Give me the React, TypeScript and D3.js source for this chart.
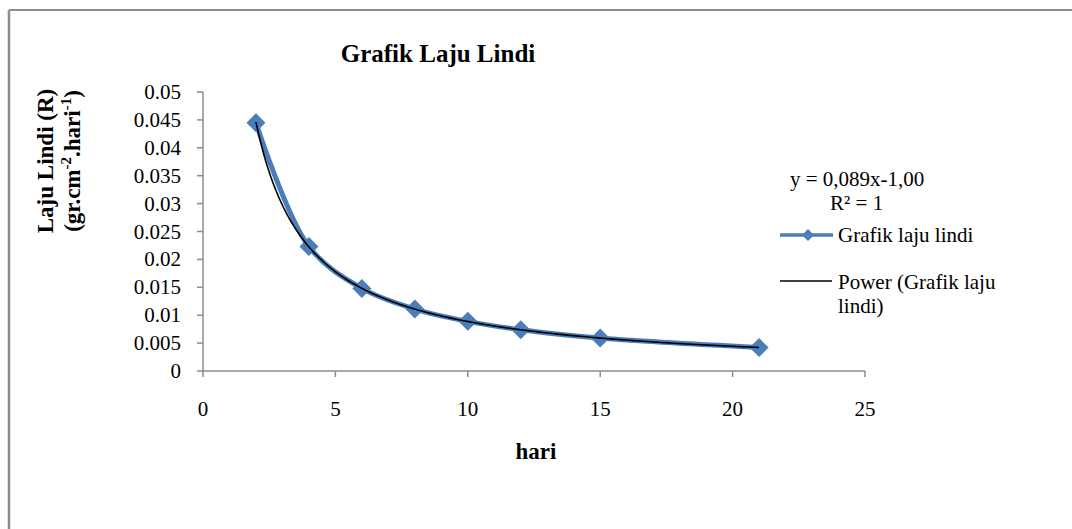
import React from "react";
import * as d3 from "d3";

const hari = [2, 4, 6, 8, 10, 12, 15, 21];
const lajuLindi = [0.0445, 0.0223, 0.0148, 0.0111, 0.0089, 0.0074, 0.0059, 0.0042];
const xTicks = [0, 5, 10, 15, 20, 25];
const yTicks = [0, 0.005, 0.01, 0.015, 0.02, 0.025, 0.03, 0.035, 0.04, 0.045, 0.05];

const W = 1072;
const H = 529;
const FONT = "'Liberation Serif', 'Times New Roman', serif";
const BLUE = "#4a7ebb";
const AXIS = "#8c8c8c";
const FS = 21;

export default function App() {
  const x = d3.scaleLinear().domain([0, 25]).range([203, 865]);
  const y = d3.scaleLinear().domain([0, 0.05]).range([371, 92]);

  const pts: [number, number][] = hari.map((h, i) => [h, lajuLindi[i]]);

  // power trendline fit: ln y = ln a + b ln x
  const lx = hari.map((v) => Math.log(v));
  const ly = lajuLindi.map((v) => Math.log(v));
  const mx = d3.mean(lx)!;
  const my = d3.mean(ly)!;
  const b =
    d3.sum(lx.map((v, i) => (v - mx) * (ly[i] - my))) /
    d3.sum(lx.map((v) => (v - mx) * (v - mx)));
  const a = Math.exp(my - b * mx);
  const trendX = d3.range(0, 201).map((i) => 2 + (19 * i) / 200);
  const trend: [number, number][] = trendX.map((v) => [v, a * Math.pow(v, b)]);

  const smooth = d3
    .line<[number, number]>()
    .x((d) => x(d[0]))
    .y((d) => y(d[1]))
    .curve(d3.curveCatmullRom.alpha(0.5));
  const plain = d3
    .line<[number, number]>()
    .x((d) => x(d[0]))
    .y((d) => y(d[1]));

  const diamond = (cx: number, cy: number, r: number) =>
    `M${cx},${cy - r}L${cx + r},${cy}L${cx},${cy + r}L${cx - r},${cy}Z`;

  return (
    <svg
      width={W}
      height={H}
      style={{ position: "absolute", left: 0, top: 0, background: "#fff" }}
    >
      <rect x={0} y={0} width={W} height={H} fill="#fff" />
      {/* frame */}
      <line x1={9} y1={10} x2={W} y2={10} stroke={AXIS} strokeWidth={2} />
      <line x1={9} y1={10} x2={9} y2={H} stroke={AXIS} strokeWidth={2.5} />

      {/* title */}
      <text x={438} y={62} textAnchor="middle" fontFamily={FONT} fontSize={25} fontWeight="bold">
        Grafik Laju Lindi
      </text>

      {/* y axis label */}
      <g transform="translate(53,161) rotate(-90)">
        <text x={0} y={0} textAnchor="middle" fontFamily={FONT} fontSize={23} fontWeight="bold">
          Laju Lindi (R)
        </text>
        <text x={0} y={27} textAnchor="middle" fontFamily={FONT} fontSize={23} fontWeight="bold">
          (gr.cm
          <tspan fontSize={15} dy={-9}>-2</tspan>
          <tspan dy={9}>.hari</tspan>
          <tspan fontSize={15} dy={-9}>-1</tspan>
          <tspan dy={9}>)</tspan>
        </text>
      </g>

      {/* axes */}
      <line x1={x(0)} y1={y(0)} x2={x(0)} y2={y(0.05)} stroke={AXIS} strokeWidth={1.5} />
      <line x1={x(0)} y1={y(0)} x2={x(25)} y2={y(0)} stroke={AXIS} strokeWidth={1.5} />
      {yTicks.map((t) => (
        <g key={"y" + t}>
          <line x1={x(0) - 6} x2={x(0)} y1={y(t)} y2={y(t)} stroke={AXIS} strokeWidth={1.5} />
          <text x={181} y={y(t) + 7} textAnchor="end" fontFamily={FONT} fontSize={FS}>
            {String(t)}
          </text>
        </g>
      ))}
      {xTicks.map((t) => (
        <g key={"x" + t}>
          <line x1={x(t)} x2={x(t)} y1={y(0)} y2={y(0) + 6} stroke={AXIS} strokeWidth={1.5} />
          <text x={x(t)} y={416} textAnchor="middle" fontFamily={FONT} fontSize={FS}>
            {t}
          </text>
        </g>
      ))}
      <text x={536} y={459} textAnchor="middle" fontFamily={FONT} fontSize={23} fontWeight="bold">
        hari
      </text>

      {/* series */}
      <path d={smooth(pts)!} fill="none" stroke={BLUE} strokeWidth={5} strokeLinejoin="round" />
      {pts.map((p, i) => (
        <path key={i} d={diamond(x(p[0]), y(p[1]), 9.5)} fill={BLUE} />
      ))}
      <path d={plain(trend)!} fill="none" stroke="#000" strokeWidth={1.6} />

      {/* equation */}
      <text x={790} y={186} fontFamily={FONT} fontSize={FS}>
        y = 0,089x-1,00
      </text>
      <text x={830} y={210} fontFamily={FONT} fontSize={FS}>
        R² = 1
      </text>

      {/* legend */}
      <line x1={780} x2={833} y1={235} y2={235} stroke={BLUE} strokeWidth={3.5} />
      <path d={diamond(808, 235, 6)} fill={BLUE} />
      <text x={838} y={242} fontFamily={FONT} fontSize={FS}>
        Grafik laju lindi
      </text>
      <line x1={780} x2={832} y1={281} y2={281} stroke="#000" strokeWidth={1.6} />
      <text x={838} y={289} fontFamily={FONT} fontSize={FS}>
        Power (Grafik laju
      </text>
      <text x={838} y={313} fontFamily={FONT} fontSize={FS}>
        lindi)
      </text>
    </svg>
  );
}
